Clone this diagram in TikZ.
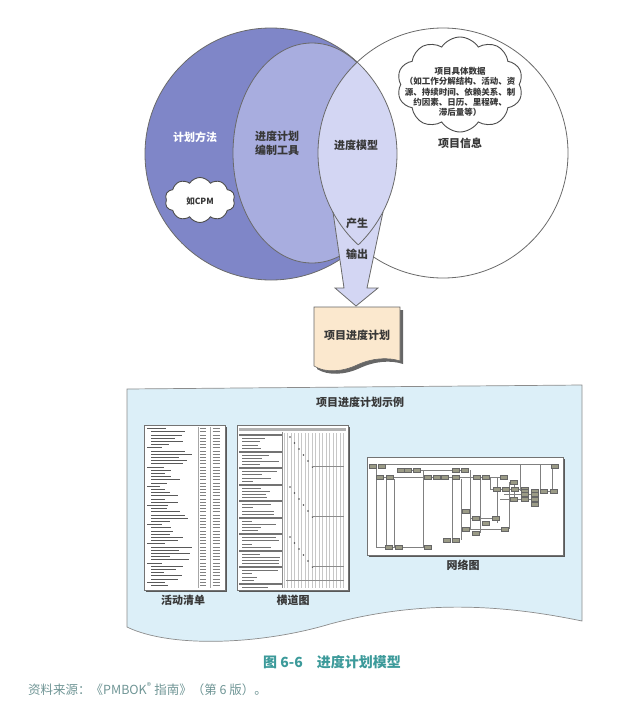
\documentclass[tikz,border=0pt]{standalone}
\usepackage{fontspec}
\newfontfamily\cjk{Noto Sans CJK SC}
\usetikzlibrary{shapes.symbols}
\definecolor{methodblue}{HTML}{7F86C8}
\definecolor{toolblue}{HTML}{A8ADDF}
\definecolor{modelblue}{HTML}{D3D6F3}
\definecolor{rimgray}{HTML}{6A6A6A}
\definecolor{paperpeach}{HTML}{FBE8CE}
\definecolor{panelblue}{HTML}{DCEFF8}
\definecolor{captionteal}{HTML}{3C9A9A}
\definecolor{sourcegray}{HTML}{6F9595}
\definecolor{boxolive}{HTML}{9A9A86}

\begin{document}
\begin{tikzpicture}[x=1pt,y=-1pt,
    label/.style={font=\cjk\bfseries\fontsize{11}{14}\selectfont,text=black!78,align=center,inner sep=0pt},
    small/.style={font=\cjk\bfseries\fontsize{8.5}{10.3}\selectfont,text=black!78,align=center,inner sep=0pt},
    rim/.style={draw=rimgray,line width=0.8pt},
    puff/.style={cloud,cloud puffs=10,cloud puff arc=115,cloud ignores aspect,draw=black!70,line width=0.9pt,fill=white,inner sep=0pt},
    sheet/.style={fill=white,draw=black!55,line width=0.5pt},
    shade/.style={fill=black!65},
    netbox/.style={fill=boxolive,draw=black!60,line width=0.3pt}
]
\useasboundingbox (0,0) rectangle (623,710);
\coordinate (methodC) at (271,154);
\coordinate (infoC) at (443,153);

% venn part
\filldraw[methodblue,rim] (methodC) circle[radius=126];
\filldraw[fill=white,rim] (infoC) circle[radius=125];
\filldraw[toolblue,rim] (312,153) ellipse[x radius=79,y radius=110];
\begin{scope}
    \clip (methodC) circle[radius=126];
    \fill[modelblue] (infoC) circle[radius=125];
\end{scope}

\node[puff,minimum width=70pt,minimum height=45pt] (cpmCloud) at (200,200) {};
\node[small] (cpmText) at (200,201) {如CPM};
\node[puff,minimum width=126pt,minimum height=95pt] (dataCloud) at (460,84.5) {};
\node[small] (dataText) at (460,92) {项目具体数据\\（如工作分解结构、活动、资\\源、持续时间、依赖关系、制\\约因素、日历、里程碑、\\滞后量等）};

% output arrow
\fill[modelblue] (333,212) -- (344,288) -- (335,288) -- (356,306) -- (378,288) -- (367,288) -- (383,212) -- cycle;
\draw[rim] (333,212) -- (344,288) -- (335,288) -- (356,306) -- (378,288) -- (367,288) -- (383,212);
\begin{scope}
    \clip (methodC) circle[radius=126];
    \draw[rim] (infoC) circle[radius=125];
\end{scope}
\begin{scope}
    \clip (infoC) circle[radius=125];
    \draw[rim] (methodC) circle[radius=126];
\end{scope}

\node[label,text=white] (methodText) at (195,137) {计划方法};
\node[label] (toolText) at (277,143) {进度计划\\编制工具};
\node[label] (modelText) at (356,145) {进度模型};
\node[label] (infoText) at (460,143) {项目信息};
\node[label] (produceText) at (357,223) {产生};
\node[label] (outputText) at (357,254) {输出};

% schedule document
\begin{scope}[shift={(3,3)}]
    \fill[black!60] (314,307) -- (400,307) -- (400,361) .. controls (388,357) and (372,358) .. (357,365) .. controls (342,372) and (325,373) .. (314,366) -- cycle;
\end{scope}
\filldraw[fill=paperpeach,draw=black!60,line width=0.6pt] (314,307) -- (400,307) -- (400,361) .. controls (388,357) and (372,358) .. (357,365) .. controls (342,372) and (325,373) .. (314,366) -- cycle;
\node[label] (planText) at (357,335) {项目进度计划};

% examples panel
\filldraw[fill=panelblue,draw=black!45,line width=0.7pt] (127,389) -- (582,385) -- (582,621) .. controls (500,604) and (420,600) .. (330,624) .. controls (260,645) and (170,648) .. (127,627) -- cycle;
\node[label] (panelTitle) at (360,402) {项目进度计划示例};

% activity list
\pgfmathsetseed{11}
\fill[shade] (146,427) rectangle (227,592);
\filldraw[sheet] (144,425) rectangle (225,590);
\draw[black!35,line width=0.3pt] (198,427) -- (198,588) (210,427) -- (210,588);
\foreach \i in {0,...,49}{
    \pgfmathsetmacro\yy{428.5+\i*3.2}
    \pgfmathtruncatemacro\hd{mod(\i,6)==0 ? 1 : 0}
    \pgfmathsetmacro\xs{\hd==1 ? 147 : 151}
    \pgfmathsetmacro\ln{\hd==1 ? 12+rnd*10 : 12+rnd*32}
    \draw[black!65,line width=0.7pt] (\xs,\yy) -- ++(\ln,0);
    \draw[black!50,line width=0.7pt] (200,\yy) -- ++(6,0) (212.5,\yy) -- ++(7,0);
}
\node[label] (listText) at (183,600) {活动清单};

% bar chart
\fill[shade] (239,427) rectangle (350,592);
\filldraw[sheet] (237,425) rectangle (348,590);
\foreach \gx in {284,287.5,...,346} \draw[black!22,line width=0.3pt] (\gx,433) -- (\gx,588);
\fill[black!30] (239,427.5) rectangle (346,431);
\draw[black!45,line width=0.4pt] (282.5,432) -- (282.5,588);
\foreach \i in {0,...,46}{
    \pgfmathsetmacro\yy{435+\i*3.3}
    \pgfmathtruncatemacro\hd{mod(\i,5)==0 ? 1 : 0}
    \ifnum\hd=1
        \fill[black!55] (239,\yy-1) rectangle (282,\yy+1);
    \else
        \pgfmathsetmacro\ln{10+rnd*28}
        \draw[black!55,line width=0.5pt] (242,\yy) -- ++(\ln,0);
    \fi
}
\foreach \b in {0,1,2}{
    \foreach \k in {0,...,5}
        \fill[black!70] (290+\k*4.5,437+\b*50+\k*6) circle[radius=0.9];
    \draw[black!45,line width=0.4pt] (312,466+\b*50) -- (344,466+\b*50);
}
\draw[black!45,line width=0.4pt] (286,580) -- (344,580);
\node[label] (barText) at (293,600) {横道图};

% network diagram
\fill[shade] (369,459) rectangle (565,557);
\filldraw[sheet] (367,457) rectangle (563,555);
\draw[black!50,line width=0.3pt]
    (385,464) -- (552,464) (398,470) -- (468,470) (383,477) -- (508,477)
    (376,469) -- (376,547) -- (425,547) (386,479) -- (386,547) (394,479) -- (394,547)
    (423,470) -- (423,547) (452,479) -- (452,540) (461,479) -- (461,540)
    (470,470) -- (470,529) -- (505,529) (470,511) -- (470,518) -- (496,518)
    (480,477) -- (480,533) (490,477) -- (490,489) -- (525,489)
    (497,477) -- (497,523) (509,482) -- (509,529) (504,494) -- (535,494)
    (514,482) -- (514,499) (520,464) -- (520,491) (540,464) -- (540,491) -- (554,491)
    (552,464) -- (552,491) (500,499) -- (535,499);
\foreach \bx/\by in {373/466,382/466,555/466,401/470,408/470,417/470,456/470,465/470,
    380/477,390/477,428/477,437/477,445/477,456/477,477/477,486/477,504/477,514/482,
    497/489,506/489,515/489,525/489,525/491,535/491,544/491,554/491,525/494,535/494,
    514/499,525/499,535/499,535/504,466/511,476/518,496/518,486/523,466/529,505/529,
    476/533,447/540,456/540,389/547,399/547,428/547}
    \filldraw[netbox] (\bx-3.5,\by-1.8) rectangle (\bx+3.5,\by+1.8);
\node[label] (netText) at (463,565) {网络图};

% caption
\node[font=\cjk\bfseries\fontsize{14}{16}\selectfont,text=captionteal,inner sep=0pt] (figCaption) at (332,662) {图 6-6\quad 进度计划模型};
\node[font=\cjk\fontsize{12.5}{14}\selectfont,text=sourcegray,inner sep=0pt,anchor=west] (figSource) at (28,689) {资料来源：《PMBOK\textsuperscript{®} 指南》（第 6 版）。};
\end{tikzpicture}
\end{document}
